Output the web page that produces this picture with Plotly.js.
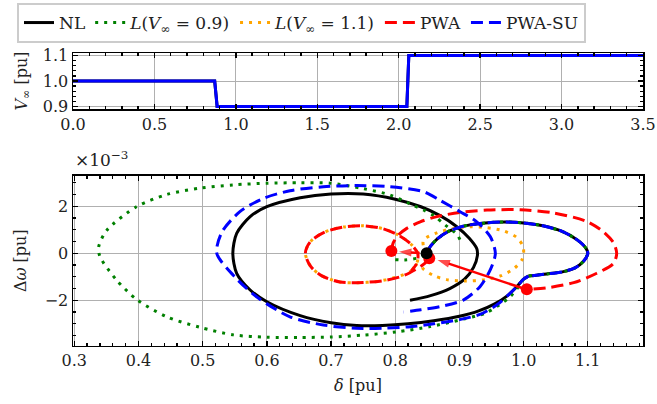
<!DOCTYPE html>
<html><head><meta charset="utf-8">
<script src="https://cdn.plot.ly/plotly-3.0.1.min.js"></script>
<style>html,body{margin:0;padding:0;background:#fff;} #plot{width:657px;height:404px;}</style>
</head><body><div id="plot"></div>
<script>
// ---------- top panel: grid voltage step ----------
const tTime = [0, 0.870, 0.885, 2.050, 2.062, 3.5];
const vInf  = [1.0, 1.0, 0.9, 0.9, 1.1, 1.1];

// ---------- bottom panel: phase portrait (delta [pu], dOmega [1e-3 pu]) ----------
// NL (nonlinear) phase 1 (V=0.9) and phase 2 (V=1.1)
const nl1X = [0.849,0.855,0.866,0.882,0.906,0.940,0.970,1.000,1.030,1.060,1.083,1.097,1.100,1.093,1.080,1.062,1.036,1.0075];
const nl1Y = [0.00,0.30,0.62,0.92,1.15,1.29,1.33,1.29,1.17,0.93,0.58,0.22,0.00,-0.35,-0.62,-0.78,-0.88,-0.97];
const nl2X = [1.0075,1.000,0.990,0.975,0.955,0.930,0.900,0.860,0.820,0.780,0.740,0.700,0.652,0.600,0.574,0.553,0.547,0.553,0.574,0.600,0.652,0.700,0.750,0.800,0.840,0.870,0.896,0.915,0.927,0.928,0.922,0.908,0.885,0.855,0.823];
const nl2Y = [-0.97,-1.10,-1.40,-1.80,-2.15,-2.45,-2.68,-2.87,-3.00,-3.07,-3.07,-2.95,-2.65,-2.06,-1.56,-0.85,0.00,0.85,1.56,1.98,2.36,2.52,2.52,2.30,1.98,1.60,1.13,0.65,0.20,-0.10,-0.60,-1.10,-1.50,-1.80,-2.00];

// L(V=0.9)
const l09X = [0.800,0.815,0.835,0.849,0.855,0.866,0.882,0.906,0.940,0.970,1.000,1.030,1.060,1.083,1.097,1.100,1.093,1.080,1.062,1.036,1.008,1.000,0.990,0.979,0.962,0.940,0.906,0.854,0.803,0.750,0.700,0.650,0.600,0.548,0.496,0.444,0.397,0.366,0.340,0.338,0.351,0.397,0.444,0.496,0.548,0.600,0.652,0.699,0.750,0.792,0.823,0.844,0.860,0.878,0.896,0.901];
const l09Y = [-0.27,-0.28,-0.20,0.00,0.30,0.62,0.92,1.15,1.29,1.33,1.29,1.17,0.93,0.58,0.22,0.00,-0.35,-0.62,-0.78,-0.88,-0.97,-1.10,-1.50,-1.85,-2.20,-2.55,-2.80,-3.12,-3.34,-3.48,-3.56,-3.58,-3.57,-3.47,-3.15,-2.70,-1.96,-1.14,-0.14,0.28,0.99,1.98,2.50,2.77,2.91,2.98,3.00,2.98,2.75,2.48,2.10,1.84,1.60,1.20,0.81,0.57];

// L(V=1.1)
const l11X = [0.849,0.844,0.844,0.865,0.891,0.917,0.943,0.969,0.989,0.999,1.000,0.997,0.985,0.965,0.940,0.910,0.880,0.860,0.845,0.835,0.825,0.800,0.771,0.740,0.714,0.685,0.668,0.660,0.668,0.690,0.720,0.750,0.780,0.803,0.823,0.835,0.834,0.825];
const l11Y = [0.00,0.30,0.57,0.87,1.06,1.13,1.09,0.95,0.68,0.30,0.00,-0.30,-0.65,-0.95,-1.12,-1.18,-1.12,-0.95,-0.70,-0.45,-0.75,-1.03,-1.20,-1.25,-1.22,-0.95,-0.55,0.00,0.50,0.90,1.12,1.17,1.05,0.80,0.43,0.00,-0.40,-0.75];

// PWA phase 1 and phase 2
const pwa1X = [0.794,0.797,0.805,0.818,0.839,0.865,0.901,0.943,0.995,1.046,1.098,1.124,1.140,1.145,1.140,1.114,1.078,1.036,1.005];
const pwa1Y = [0.10,0.45,0.78,1.06,1.34,1.56,1.74,1.84,1.85,1.72,1.36,0.92,0.45,0.00,-0.43,-0.85,-1.25,-1.47,-1.53];
const pwa2X = [0.853,0.845,0.834,0.813,0.785,0.750,0.714,0.685,0.668,0.660,0.668,0.690,0.720,0.750,0.780,0.803,0.823,0.835,0.834,0.825];
const pwa2Y = [-0.21,-0.45,-0.65,-0.95,-1.15,-1.24,-1.22,-0.95,-0.55,0.00,0.50,0.90,1.12,1.17,1.05,0.80,0.43,0.00,-0.40,-0.75];

// PWA-SU phase 1 and phase 2
const su1X = nl1X.slice();
const su1Y = nl1Y.slice();
const su2X = [1.0075,1.000,0.990,0.975,0.958,0.932,0.900,0.860,0.820,0.780,0.740,0.688,0.636,0.584,0.550,0.522,0.530,0.558,0.595,0.636,0.688,0.740,0.792,0.844,0.870,0.901,0.927,0.948,0.956,0.948,0.932,0.906,0.870,0.840,0.813];
const su2Y = [-0.97,-1.10,-1.40,-1.80,-2.20,-2.60,-2.82,-3.00,-3.13,-3.19,-3.19,-3.05,-2.70,-1.85,-1.00,0.00,0.90,1.77,2.34,2.66,2.83,2.88,2.83,2.62,2.25,1.77,1.34,0.71,0.00,-0.71,-1.42,-1.99,-2.27,-2.40,-2.50];

// markers
const pwaPtsX = [0.794, 0.853, 1.005];
const pwaPtsY = [0.10, -0.21, -1.53];
const eqX = [0.849];
const eqY = [0.00];
// arrows: tail -> head
const arrow1X = [0.838, 0.806];
const arrow1Y = [0.01, 0.07];
const arrow2X = [1.000, 0.866];
const arrow2Y = [-1.50, -0.28];

const FONT = '"DejaVu Serif", serif';
const FS = 16;
const lw = 3;

function tr(x, y, color, dash, name, show, rank) {
  return {x: x, y: y, xaxis: 'x2', yaxis: 'y2', mode: 'lines', type: 'scatter',
    line: {color: color, width: lw, dash: dash, shape: 'spline', smoothing: 0.8},
    name: name, legendgroup: name, showlegend: show, legendrank: rank, hoverinfo: 'skip'};
}
function arrowTrace(x, y) {
  return {x: x, y: y, xaxis: 'x2', yaxis: 'y2', mode: 'lines+markers', type: 'scatter',
    line: {color: '#ff0000', width: 2.5},
    marker: {symbol: 'arrow', size: [0, 13], angleref: 'previous', color: '#ff0000', line: {width: 0}},
    showlegend: false, hoverinfo: 'skip'};
}

const data = [
  {x: tTime, y: vInf, xaxis: 'x', yaxis: 'y', mode: 'lines', line: {color: 'black', width: lw}, showlegend: false},
  {x: tTime, y: vInf, xaxis: 'x', yaxis: 'y', mode: 'lines', line: {color: '#0000ff', width: lw}, showlegend: false},
  tr(nl1X, nl1Y, 'black', 'solid', 'NL', true, 1),
  tr(nl2X, nl2Y, 'black', 'solid', 'NL', false, 1),
  tr(l09X, l09Y, '#008000', '3px,6px', '<i>L</i>(<i>V</i><sub>∞</sub> = 0.9)', true, 2),
  tr(l11X, l11Y, '#ffa500', '3px,6px', '<i>L</i>(<i>V</i><sub>∞</sub> = 1.1)', true, 3),
  tr(pwa1X, pwa1Y, '#ff0000', '12px,6px', 'PWA', true, 4),
  tr(pwa2X, pwa2Y, '#ff0000', '12px,6px', 'PWA', false, 4),
  tr(su1X, su1Y, '#0000ff', '12px,6px', 'PWA-SU', true, 5),
  tr(su2X, su2Y, '#0000ff', '12px,6px', 'PWA-SU', false, 5),
  arrowTrace(arrow1X, arrow1Y),
  arrowTrace(arrow2X, arrow2Y),
  {x: pwaPtsX, y: pwaPtsY, xaxis: 'x2', yaxis: 'y2', mode: 'markers', marker: {color: '#ff0000', size: 12}, showlegend: false},
  {x: eqX, y: eqY, xaxis: 'x2', yaxis: 'y2', mode: 'markers', marker: {color: 'black', size: 12}, showlegend: false}
];

const axCommon = {
  showline: true, linecolor: 'black', linewidth: 1.5, mirror: 'allticks',
  ticks: 'inside', ticklen: 5, tickwidth: 1.3, tickcolor: 'black',
  showgrid: true, gridcolor: '#b0b0b0', gridwidth: 1, zeroline: false,
  tickfont: {family: FONT, size: FS, color: '#222'}
};
function ax(o) { return Object.assign({}, JSON.parse(JSON.stringify(axCommon)), o); }

const layout = {
  width: 657, height: 404,
  margin: {l: 73, r: 14, t: 0, b: 0, autoexpand: false},
  paper_bgcolor: 'white', plot_bgcolor: 'white',
  font: {family: FONT, size: FS, color: '#222'},
  showlegend: true,
  legend: {orientation: 'h', x: 17 / 657, xref: 'container', y: 1 - 3 / 404, yref: 'container', xanchor: 'left', yanchor: 'top',
    bordercolor: '#cccccc', borderwidth: 2, bgcolor: 'white', font: {family: FONT, size: 17, color: '#222'},
    itemwidth: 30, traceorder: 'normal'},
  xaxis: ax({domain: [0, 1], anchor: 'y', range: [0, 3.5], tick0: 0, dtick: 0.5, tickformat: '.1f',
    minor: {ticks: 'inside', ticklen: 3, tickcolor: 'black', dtick: 0.1, tick0: 0, showgrid: false}}),
  yaxis: ax({domain: [(404 - 109) / 404, (404 - 53) / 404], anchor: 'x', range: [0.89, 1.11], tick0: 0.9, dtick: 0.1, tickformat: '.1f',
    minor: {ticks: 'inside', ticklen: 3, tickcolor: 'black', dtick: 0.02, tick0: 0.9, showgrid: false},
    title: {text: '<i>V</i><sub>∞</sub> [pu]', font: {family: FONT, size: FS, color: '#222'}, standoff: 11}}),
  xaxis2: ax({domain: [0, 1], anchor: 'y2', range: [0.298, 1.186], tick0: 0, dtick: 0.1, tickformat: '.1f',
    minor: {ticks: 'inside', ticklen: 3, tickcolor: 'black', dtick: 0.02, tick0: 0, showgrid: false},
    title: {text: '<i>δ</i> [pu]', font: {family: FONT, size: FS, color: '#222'}, standoff: 10}}),
  yaxis2: ax({domain: [(404 - 345.7) / 404, (404 - 175.7) / 404], anchor: 'x2', range: [-3.93, 3.30], tick0: 0, dtick: 2,
    minor: {ticks: 'inside', ticklen: 3, tickcolor: 'black', dtick: 0.5, tick0: 0, showgrid: false},
    title: {text: 'Δ<i>ω</i> [pu]', font: {family: FONT, size: FS, color: '#222'}, standoff: 14}}),
  annotations: [
    {text: '×10<sup>−3</sup>', xref: 'paper', yref: 'paper', x: 0.0, y: (404 - 159) / 404,
     xanchor: 'left', yanchor: 'middle', showarrow: false, font: {family: FONT, size: 17, color: '#222'}}
  ]
};

Plotly.newPlot('plot', data, layout, {displayModeBar: false, staticPlot: true});
</script>
</body></html>
